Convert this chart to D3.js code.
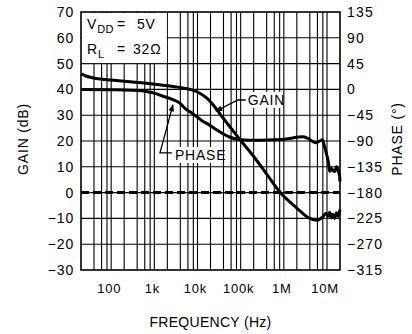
<!DOCTYPE html>
<meta charset="utf-8">
<script src="https://d3js.org/d3.v7.min.js"></script>
<style>
  body { margin: 0; background: #fff; }
  text { font-family: "Liberation Sans", Arial, sans-serif; fill: #000; letter-spacing: 0.8px; }
</style>
<div id="my_dataviz"></div>
<script>

// gain curve (Hz, dB)
var gainFreq = [20, 25, 35, 50, 100, 270, 500, 1600, 3900, 10000, 17000, 28000, 38000, 50000, 77000, 100000,
  200000, 400000, 800000, 2000000, 4000000, 5800000, 8000000, 9500000, 10500000, 11500000, 12500000,
  13500000, 15000000, 16500000, 18000000, 20000000];
var gainDb = [46, 45.3, 44.6, 44.1, 43.6, 43, 42.6, 41.6, 40.7, 39, 36.4, 32.2, 29.2, 26.6, 22.6, 20.2,
  14, 7.2, 0.3, -6, -10, -10.7, -9.4, -8, -9.2, -7.6, -9.8, -8.4, -10, -7.8, -9.2, -6.6];

// phase curve (Hz, degrees)
var phaseFreq = [20, 100, 300, 700, 1000, 1600, 2500, 3900, 5100, 7000, 9400, 13000, 18800, 27000, 38000,
  55000, 77000, 100000, 155000, 300000, 600000, 1380000, 2200000, 2800000, 3500000, 4760000, 5500000,
  6800000, 7800000, 8500000, 9700000, 10800000, 11600000, 12700000, 14000000, 15200000, 16600000,
  18100000, 19500000, 20000000];
var phaseDeg = [0, -0.5, -1.5, -4, -6.5, -12, -17, -24, -33, -40, -47, -55, -62, -70, -77,
  -83, -86.5, -88, -88.5, -88.5, -88, -85.5, -83, -82.5, -85, -91, -93, -90, -88, -96, -112, -128,
  -143, -138, -142, -143, -135, -141, -150, -161];

// axis ticks
var gainTicks = [-30, -20, -10, 0, 10, 20, 30, 40, 50, 60, 70];
var phaseTicks = [-315, -270, -225, -180, -135, -90, -45, 0, 45, 90, 135];
var freqTicks = [100, 1e3, 1e4, 1e5, 1e6, 1e7];
var freqLabels = ["100", "1k", "10k", "100k", "1M", "10M"];

var W = 412, H = 334;
var margin = {top: 12, right: 72, bottom: 64, left: 81};

var svg = d3.select("#my_dataviz")
  .append("svg")
  .attr("width", W)
  .attr("height", H);

var x = d3.scaleLog().domain([20, 2e7]).range([margin.left, W - margin.right]);
var yG = d3.scaleLinear().domain([-30, 70]).range([H - margin.bottom, margin.top]);
var yP = d3.scaleLinear().domain([-315, 135]).range([H - margin.bottom, margin.top]);

// vertical grid at 2,4,6,8 x each decade
var gridF = [];
for (var e = 1; e <= 7; e++) {
  [2, 4, 6, 8, 10].forEach(function(m) {
    var f = m * Math.pow(10, e);
    if (f > 20 && f < 2e7) gridF.push(f);
  });
}

var grid = svg.append("g");
grid.selectAll("line.v")
  .data(gridF)
  .enter().append("line")
  .attr("x1", function(d) { return x(d) }).attr("x2", function(d) { return x(d) })
  .attr("y1", yG(70)).attr("y2", yG(-30))
  .style("stroke", "#000").style("stroke-width", 1.1);

grid.selectAll("line.h")
  .data(gainTicks.slice(1, -1))
  .enter().append("line")
  .attr("x1", x(20)).attr("x2", x(2e7))
  .attr("y1", function(d) { return yG(d) }).attr("y2", function(d) { return yG(d) })
  .style("stroke", "#000").style("stroke-width", 1.1);

// white box for the conditions text
svg.append("rect")
  .attr("x", x(20) + 1).attr("y", yG(70) + 1)
  .attr("width", x(2000) - x(20) - 1.5).attr("height", yG(50) - yG(70) - 1.5)
  .style("fill", "#fff");

// 0 dB dashed line
svg.append("line")
  .attr("x1", x(20)).attr("x2", x(2e7))
  .attr("y1", yG(0)).attr("y2", yG(0))
  .style("stroke", "#000").style("stroke-width", 3)
  .style("stroke-dasharray", "8,4");

// border
svg.append("rect")
  .attr("x", x(20)).attr("y", yG(70))
  .attr("width", x(2e7) - x(20)).attr("height", yG(-30) - yG(70))
  .style("fill", "none").style("stroke", "#000").style("stroke-width", 1.6);

// curves
var gainData = gainFreq.map(function(f, i) { return [f, gainDb[i]] });
var phaseData = phaseFreq.map(function(f, i) { return [f, phaseDeg[i]] });

svg.append("path")
  .datum(gainData)
  .attr("d", d3.line().x(function(d) { return x(d[0]) }).y(function(d) { return yG(d[1]) }).curve(d3.curveMonotoneX))
  .style("fill", "none").style("stroke", "#000").style("stroke-width", 3);

svg.append("path")
  .datum(phaseData)
  .attr("d", d3.line().x(function(d) { return x(d[0]) }).y(function(d) { return yP(d[1]) }).curve(d3.curveMonotoneX))
  .style("fill", "none").style("stroke", "#000").style("stroke-width", 3);

// left axis labels
svg.selectAll("text.gl")
  .data(gainTicks)
  .enter().append("text")
  .attr("x", x(20) - 7).attr("y", function(d) { return yG(d) })
  .attr("dy", "0.36em")
  .attr("text-anchor", "end")
  .style("font-size", "14px")
  .text(function(d) { return d < 0 ? "\u2212" + (-d) : d });

// right axis labels
svg.selectAll("text.pl")
  .data(phaseTicks)
  .enter().append("text")
  .attr("x", x(2e7) + 7).attr("y", function(d) { return yP(d) })
  .attr("dy", "0.36em")
  .style("font-size", "14px")
  .style("letter-spacing", "1.2px")
  .text(function(d) { return d < 0 ? "\u2212" + (-d) : d });

// bottom labels
svg.selectAll("text.fl")
  .data(freqTicks)
  .enter().append("text")
  .attr("x", function(d) { return x(d) - 2 }).attr("y", 293)
  .attr("text-anchor", "middle")
  .style("font-size", "13px")
  .text(function(d, i) { return freqLabels[i] });

// axis titles
svg.append("text")
  .attr("transform", "translate(28," + (yG(20) - 2) + ") rotate(-90)")
  .attr("text-anchor", "middle")
  .style("font-size", "14px")
  .text("GAIN (dB)");

svg.append("text")
  .attr("transform", "translate(402," + (yG(20) - 2) + ") rotate(-90)")
  .attr("text-anchor", "middle")
  .style("font-size", "14px")
  .text("PHASE (\u00B0)");

svg.append("text")
  .attr("x", (x(20) + x(2e7)) / 2).attr("y", 327)
  .attr("text-anchor", "middle")
  .style("font-size", "14px")
  .style("letter-spacing", "0.3px")
  .text("FREQUENCY (Hz)");

// conditions
var t1 = svg.append("text").attr("x", 87).attr("y", 29).style("font-size", "14px");
t1.append("tspan").text("V");
t1.append("tspan").attr("dy", 4).style("font-size", "11px").style("letter-spacing", "0.5px").text("DD");
t1.append("tspan").attr("dy", -4).attr("x", 117).text("=");
t1.append("tspan").attr("x", 137).text("5V");

var t2 = svg.append("text").attr("x", 87).attr("y", 54).style("font-size", "14px");
t2.append("tspan").text("R");
t2.append("tspan").attr("dy", 4).style("font-size", "11px").text("L");
t2.append("tspan").attr("dy", -4).attr("x", 117).text("=");
t2.append("tspan").attr("x", 133).text("32\u03A9");

// arrow marker
svg.append("defs").append("marker")
  .attr("id", "arr")
  .attr("viewBox", "0 0 10 10")
  .attr("refX", 9).attr("refY", 5)
  .attr("markerWidth", 10).attr("markerHeight", 7)
  .attr("markerUnits", "userSpaceOnUse")
  .attr("orient", "auto")
  .append("path").attr("d", "M0,1L10,5L0,9Z").style("fill", "#000");

// GAIN label
var gx = x(146000), gy = yG(35.9);
svg.append("rect").attr("x", gx - 1).attr("y", gy - 8).attr("width", 36).attr("height", 16).style("fill", "#fff");
svg.append("text").attr("x", gx).attr("y", gy).attr("dy", "0.36em").style("font-size", "14px").text("GAIN");
svg.append("path")
  .attr("d", "M" + (gx - 2) + "," + gy + "H" + x(86000) + "L" + x(26700) + "," + yG(31.6))
  .style("fill", "none").style("stroke", "#000").style("stroke-width", 1.3)
  .attr("marker-end", "url(#arr)");

// PHASE label
var px = x(3000), py = yG(14.6);
svg.append("rect").attr("x", px - 1).attr("y", py - 8).attr("width", 46).attr("height", 16).style("fill", "#fff");
svg.append("text").attr("x", px).attr("y", py).attr("dy", "0.36em").style("font-size", "14px").text("PHASE");
svg.append("path")
  .attr("d", "M" + (px - 3) + "," + (py - 2) + "H" + x(1350) + "L" + x(2700) + "," + yG(34))
  .style("fill", "none").style("stroke", "#000").style("stroke-width", 1.3)
  .attr("marker-end", "url(#arr)");

</script>
